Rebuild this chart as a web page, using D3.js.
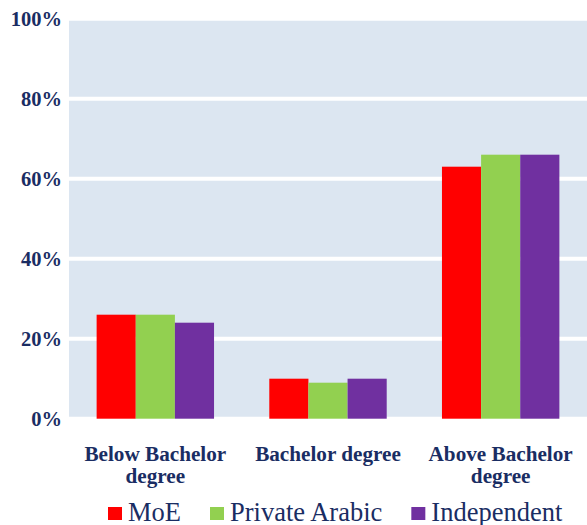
<!DOCTYPE html>
<html lang="en">
<head>
  <meta charset="UTF-8">
  <title>Qualification by school type</title>
  <script src="https://d3js.org/d3.v7.min.js"></script>
  <style>
    body {
      margin: 0;
      padding: 0;
      background: #fff;
    }
    svg text {
      font-family: 'Liberation Serif', 'Times New Roman', serif;
      fill: #1A2D63;
    }
    .tick-label {
      font-size: 20.5px;
      font-weight: bold;
    }
    .cat-label {
      font-size: 21.2px;
      font-weight: bold;
    }
    .legend-label {
      font-size: 26.5px;
    }
  </style>
</head>
<body>
  <svg id="chart"></svg>

  <script>
    // data
    const categories = [["Below Bachelor", "degree"], ["Bachelor degree"], ["Above Bachelor", "degree"]];
    const series = ["MoE", "Private Arabic", "Independent"];
    const moe = [26, 10, 63];
    const privateArabic = [26, 9, 66];
    const independent = [24, 10, 66];
    const yTicks = [0, 20, 40, 60, 80, 100];

    const values = [moe, privateArabic, independent];
    const colors = ["#FF0000", "#92D050", "#7030A0"];

    const width = 587, height = 525;
    const plot = { left: 69, right: 587, top: 18.7, bottom: 418.7 };

    const svg = d3.select("#chart")
      .attr("width", width)
      .attr("height", height);

    const x = d3.scaleBand()
      .domain(d3.range(categories.length))
      .range([plot.left, plot.right])
      .paddingInner(0.32)
      .paddingOuter(0.16);

    const xs = d3.scaleBand()
      .domain(d3.range(series.length))
      .range([0, x.bandwidth()]);

    const y = d3.scaleLinear()
      .domain([0, 100])
      .range([plot.bottom, plot.top]);

    // plot background
    svg.append("rect")
      .attr("x", plot.left)
      .attr("y", plot.top)
      .attr("width", plot.right - plot.left)
      .attr("height", plot.bottom - plot.top)
      .attr("fill", "#DCE6F1");

    // white gridlines
    svg.append("g")
      .selectAll("line")
      .data(yTicks)
      .enter().append("line")
      .attr("x1", plot.left)
      .attr("x2", plot.right)
      .attr("y1", d => y(d))
      .attr("y2", d => y(d))
      .attr("stroke", "#fff")
      .attr("stroke-width", 4);

    // y tick labels
    svg.append("g")
      .selectAll("text")
      .data(yTicks)
      .enter().append("text")
      .attr("class", "tick-label")
      .attr("x", 62)
      .attr("y", d => y(d))
      .attr("dy", "0.35em")
      .attr("text-anchor", "end")
      .text(d => d + "%");

    // bars
    series.forEach((s, si) => {
      svg.append("g")
        .selectAll("rect")
        .data(values[si])
        .enter().append("rect")
        .attr("x", (d, i) => x(i) + xs(si))
        .attr("y", d => y(d))
        .attr("width", xs.bandwidth())
        .attr("height", d => y(0) - y(d))
        .attr("fill", colors[si]);
    });

    // category labels
    categories.forEach((lines, i) => {
      const t = svg.append("text")
        .attr("class", "cat-label")
        .attr("text-anchor", "middle")
        .attr("x", x(i) + x.bandwidth() / 2)
        .attr("y", 461);
      lines.forEach((ln, li) => {
        t.append("tspan")
          .attr("x", x(i) + x.bandwidth() / 2)
          .attr("dy", li === 0 ? 0 : 22)
          .text(ln);
      });
    });

    // legend
    const legend = svg.append("g");
    let lx = 108;
    series.forEach((s, i) => {
      legend.append("rect")
        .attr("x", lx)
        .attr("y", 507)
        .attr("width", 14)
        .attr("height", 13)
        .attr("fill", colors[i]);
      const t = legend.append("text")
        .attr("class", "legend-label")
        .attr("x", lx + 20)
        .attr("y", 521)
        .text(s);
      lx += 20 + t.node().getComputedTextLength() + 29;
    });
  </script>
</body>
</html>
